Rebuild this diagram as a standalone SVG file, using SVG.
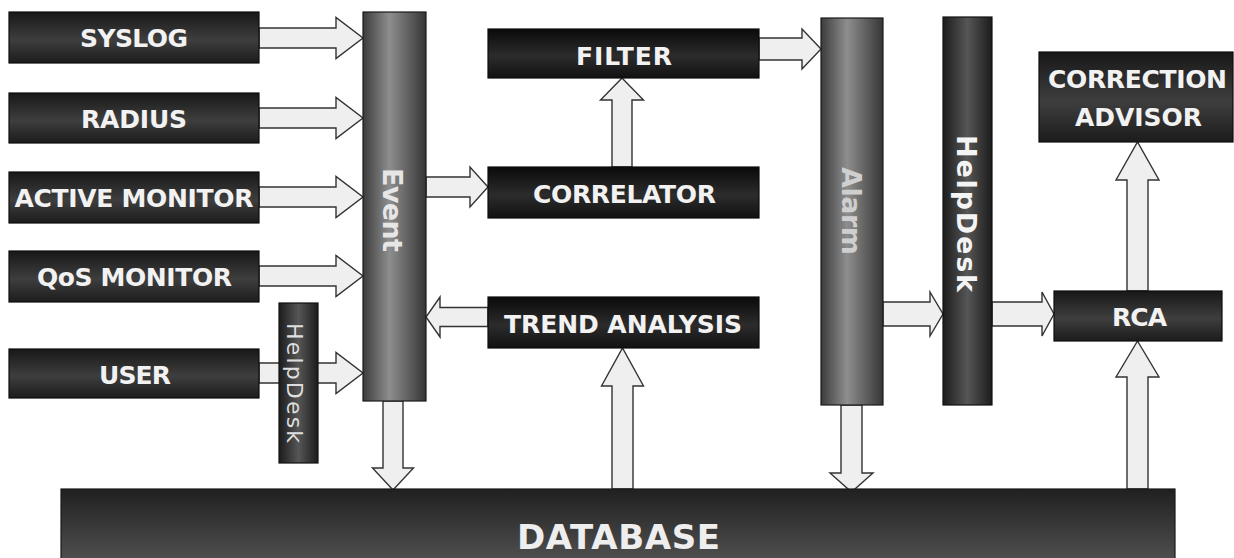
<svg xmlns="http://www.w3.org/2000/svg" width="1234" height="558" viewBox="0 0 1234 558">
<defs>
<linearGradient id="gBox" x1="0" y1="0" x2="0" y2="1">
<stop offset="0" stop-color="#181818"/><stop offset="0.55" stop-color="#3e3e3e"/><stop offset="1" stop-color="#1c1c1c"/>
</linearGradient>
<linearGradient id="gBoxDark" x1="0" y1="0" x2="0" y2="1">
<stop offset="0" stop-color="#0a0a0a"/><stop offset="0.55" stop-color="#2c2c2c"/><stop offset="1" stop-color="#111"/>
</linearGradient>
<linearGradient id="gBar" x1="0" y1="0" x2="1" y2="0">
<stop offset="0" stop-color="#3c3c3c"/><stop offset="0.42" stop-color="#8e8e8e"/><stop offset="1" stop-color="#363636"/>
</linearGradient>
<linearGradient id="gBarDark" x1="0" y1="0" x2="1" y2="0">
<stop offset="0" stop-color="#1c1c1c"/><stop offset="0.5" stop-color="#565656"/><stop offset="1" stop-color="#1c1c1c"/>
</linearGradient>
<linearGradient id="gDB" x1="0" y1="0" x2="0" y2="1">
<stop offset="0" stop-color="#202020"/><stop offset="1" stop-color="#555"/>
</linearGradient>
</defs>
<style>
.box{fill:url(#gBox);stroke:#0d0d0d;stroke-width:1.2}
.boxd{fill:url(#gBoxDark);stroke:#0d0d0d;stroke-width:1.2}
.bar{fill:url(#gBar);stroke:#1a1a1a;stroke-width:1.2}
.bard{fill:url(#gBarDark);stroke:#111;stroke-width:1.2}
.db{fill:url(#gDB);stroke:#1a1a1a;stroke-width:1.2}
.arr{fill:#efefef;stroke:#333;stroke-width:1.4;stroke-linejoin:miter}
.lbl{font-family:"DejaVu Sans",Verdana,sans-serif;font-weight:bold;font-size:25px;fill:#f2f2f2;text-anchor:middle}
.vl{font-family:"DejaVu Sans",Verdana,sans-serif;font-weight:bold;font-size:27px;text-anchor:middle}
.vs{font-family:"DejaVu Sans",Verdana,sans-serif;font-weight:normal;font-size:22px;fill:#dedede;text-anchor:middle}
.big{font-family:"DejaVu Sans",Verdana,sans-serif;font-weight:bold;font-size:34px;fill:#eeeeee;text-anchor:middle}
</style>
<rect width="1234" height="558" fill="#ffffff"/>

<g id="connectors">
<polygon class="arr" points="259,28 336,28 336,17.5 363,38 336,58.5 336,48 259,48"/>
<polygon class="arr" points="259,108 336,108 336,97.5 363,118 336,138.5 336,128 259,128"/>
<polygon class="arr" points="259,187 336,187 336,176.5 363,197 336,217.5 336,207 259,207"/>
<polygon class="arr" points="259,266 336,266 336,255.5 363,276 336,296.5 336,286 259,286"/>
<polygon class="arr" points="259,363 336,363 336,352.5 363,373 336,393.5 336,383 259,383"/>
<polygon class="arr" points="426,177 470,177 470,167 488,187 470,207 470,197 426,197"/>
<polygon class="arr" points="759,38 802,38 802,29 821,49 802,69 802,60 759,60"/>
<polygon class="arr" points="488,307.5 440,307.5 440,297 426,317 440,337 440,326.5 488,326.5"/>
<polygon class="arr" points="883,302 930,302 930,292 943,314 930,336 930,326 883,326"/>
<polygon class="arr" points="992,302 1042,302 1042,292 1054,314 1042,336 1042,326 992,326"/>
<polygon class="arr" points="612,167 612,100 600.5,100 622,78 643.5,100 632,100 632,167"/>
<polygon class="arr" points="612,489 612,386 601.5,386 622.5,348 643.5,386 633,386 633,489"/>
<polygon class="arr" points="1127,291 1127,180 1116,180 1137.5,142 1159,180 1148,180 1148,291"/>
<polygon class="arr" points="1127,489 1127,377 1116,377 1137.5,341 1159,377 1148,377 1148,489"/>
<polygon class="arr" points="383,401 383,468 372.5,468 393,490 413.5,468 403,468 403,401"/>
<polygon class="arr" points="841,405 841,473 830,473 851.5,492 873,473 862,473 862,405"/>
</g>

<g id="syslog"><rect class="box" x="9" y="12" width="250" height="51"/><text class="lbl" x="134" y="47" textLength="108">SYSLOG</text></g>
<g id="radius"><rect class="box" x="9" y="93" width="250" height="50"/><text class="lbl" x="134" y="128" textLength="106">RADIUS</text></g>
<g id="active-monitor"><rect class="box" x="9" y="172" width="250" height="51"/><text class="lbl" x="134" y="207" textLength="239">ACTIVE MONITOR</text></g>
<g id="qos-monitor"><rect class="box" x="9" y="251" width="250" height="51"/><text class="lbl" x="134.5" y="286" textLength="195">QoS MONITOR</text></g>
<g id="user"><rect class="box" x="9" y="349" width="250" height="49"/><text class="lbl" x="135" y="384" textLength="72">USER</text></g>
<g id="helpdesk-small"><rect class="bard" x="279" y="303" width="39" height="160"/><text class="vs" transform="translate(287,383) rotate(90)" textLength="120">HelpDesk</text></g>
<g id="event"><rect class="bar" x="363" y="12" width="63" height="389"/><text class="vl" fill="#e6e6e6" transform="translate(383,210) rotate(90)" textLength="84">Event</text></g>
<g id="filter"><rect class="boxd" x="488" y="29" width="271" height="49"/><text class="lbl" x="624" y="65" textLength="96">FILTER</text></g>
<g id="correlator"><rect class="boxd" x="488" y="167" width="271" height="51"/><text class="lbl" x="624.5" y="203" textLength="183">CORRELATOR</text></g>
<g id="trend-analysis"><rect class="boxd" x="488" y="297" width="271" height="51"/><text class="lbl" x="623" y="333" textLength="238">TREND ANALYSIS</text></g>
<g id="alarm"><rect class="bar" x="821" y="18" width="62" height="387"/><text class="vl" fill="#cfcfcf" transform="translate(842,211) rotate(90)" textLength="88">Alarm</text></g>
<g id="helpdesk"><rect class="bard" x="943" y="17" width="49" height="388"/><text class="vl" fill="#f4f4f4" transform="translate(957,213.5) rotate(90)" textLength="157">HelpDesk</text></g>
<g id="correction-advisor"><rect class="box" x="1039" y="52" width="194" height="90"/><text class="lbl" x="1137.5" y="88" textLength="179">CORRECTION</text><text class="lbl" x="1138.5" y="126" textLength="127">ADVISOR</text></g>
<g id="rca"><rect class="box" x="1054" y="291" width="168" height="50"/><text class="lbl" x="1139.5" y="326" textLength="55">RCA</text></g>
<g id="database"><rect class="db" x="61" y="489" width="1114" height="80"/><text class="big" x="618.5" y="549" textLength="203">DATABASE</text></g>
</svg>
